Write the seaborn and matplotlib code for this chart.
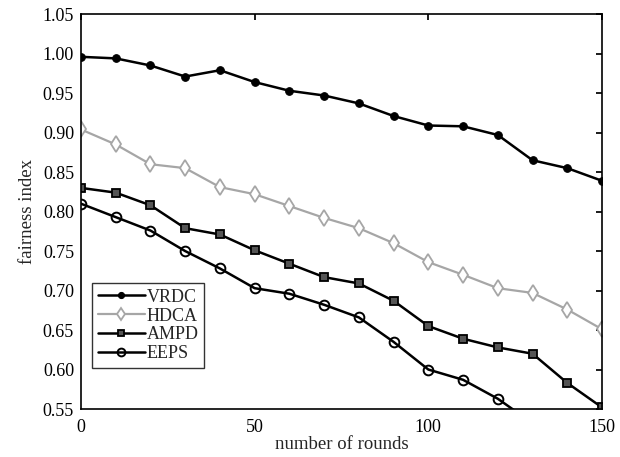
import numpy as np
import pandas as pd
import seaborn as sns
import matplotlib
matplotlib.use("Agg")
import matplotlib.pyplot as plt

# 数据
rounds = [0, 10, 20, 30, 40, 50, 60, 70, 80, 90, 100, 110, 120, 130, 140, 150]
vrdc = [0.996, 0.994, 0.985, 0.971, 0.979, 0.964, 0.953, 0.947, 0.937, 0.921,
        0.909, 0.908, 0.897, 0.865, 0.855, 0.839]
hdca = [0.904, 0.885, 0.860, 0.855, 0.831, 0.822, 0.807, 0.792, 0.779, 0.760,
        0.736, 0.720, 0.703, 0.697, 0.676, 0.651]
ampd = [0.830, 0.824, 0.808, 0.779, 0.771, 0.751, 0.734, 0.717, 0.709, 0.687,
        0.655, 0.639, 0.628, 0.620, 0.583, 0.552]
eeps_rounds = [0, 10, 20, 30, 40, 50, 60, 70, 80, 90, 100, 110, 120, 130]
eeps = [0.810, 0.793, 0.776, 0.750, 0.728, 0.703, 0.696, 0.682, 0.666, 0.635,
        0.600, 0.587, 0.563, 0.532]

yticks = [0.55, 0.60, 0.65, 0.70, 0.75, 0.80, 0.85, 0.90, 0.95, 1.00, 1.05]
xticks = [0, 50, 100, 150]

sns.set_theme(style="white")
plt.rcParams["font.family"] = ["Liberation Serif", "DejaVu Serif"]

fig = plt.figure(figsize=(6.2, 4.57), dpi=100)
ax = fig.add_axes([0.1306, 0.105, 0.8404, 0.864])

# 四条曲线
sns.lineplot(x=rounds, y=vrdc, ax=ax, color="black", linewidth=1.8,
             marker="o", markersize=5.5, markerfacecolor="black",
             markeredgecolor="black", label="VRDC")
sns.lineplot(x=rounds, y=hdca, ax=ax, color="#a6a6a6", linewidth=1.6,
             marker="d", markersize=8, markerfacecolor="white",
             markeredgecolor="#a6a6a6", markeredgewidth=1.3, label="HDCA")
sns.lineplot(x=rounds, y=ampd, ax=ax, color="black", linewidth=1.8,
             marker="s", markersize=6, markerfacecolor="#555555",
             markeredgecolor="black", markeredgewidth=1.3, label="AMPD")
sns.lineplot(x=eeps_rounds, y=eeps, ax=ax, color="black", linewidth=1.8,
             marker="o", markersize=7, markerfacecolor="none",
             markeredgecolor="black", markeredgewidth=1.4, label="EEPS")

ax.set_xlim(0, 150)
ax.set_ylim(0.55, 1.05)
ax.set_xticks(xticks)
ax.set_yticks(yticks)
ax.set_yticklabels([f"{v:.2f}" for v in yticks])
ax.tick_params(direction="in", top=True, right=True, length=4,
               labelsize=13, colors="black", pad=5)
ax.tick_params(axis="x", pad=7)
for s in ax.spines.values():
    s.set_color("black")
    s.set_linewidth(1.2)

ax.set_xlabel("number of rounds", fontsize=13.5, labelpad=0)
ax.set_ylabel("fairness index", fontsize=13.5, labelpad=5)

leg = ax.legend(loc="lower left", bbox_to_anchor=(0.022, 0.105), fontsize=13,
                frameon=True, fancybox=False, edgecolor="black",
                borderpad=0.3, labelspacing=0.1, handlelength=2.6,
                handletextpad=0.1, borderaxespad=0, markerscale=0.8)
leg.get_frame().set_linewidth(1.0)

fig.savefig("out.png", dpi=100)
